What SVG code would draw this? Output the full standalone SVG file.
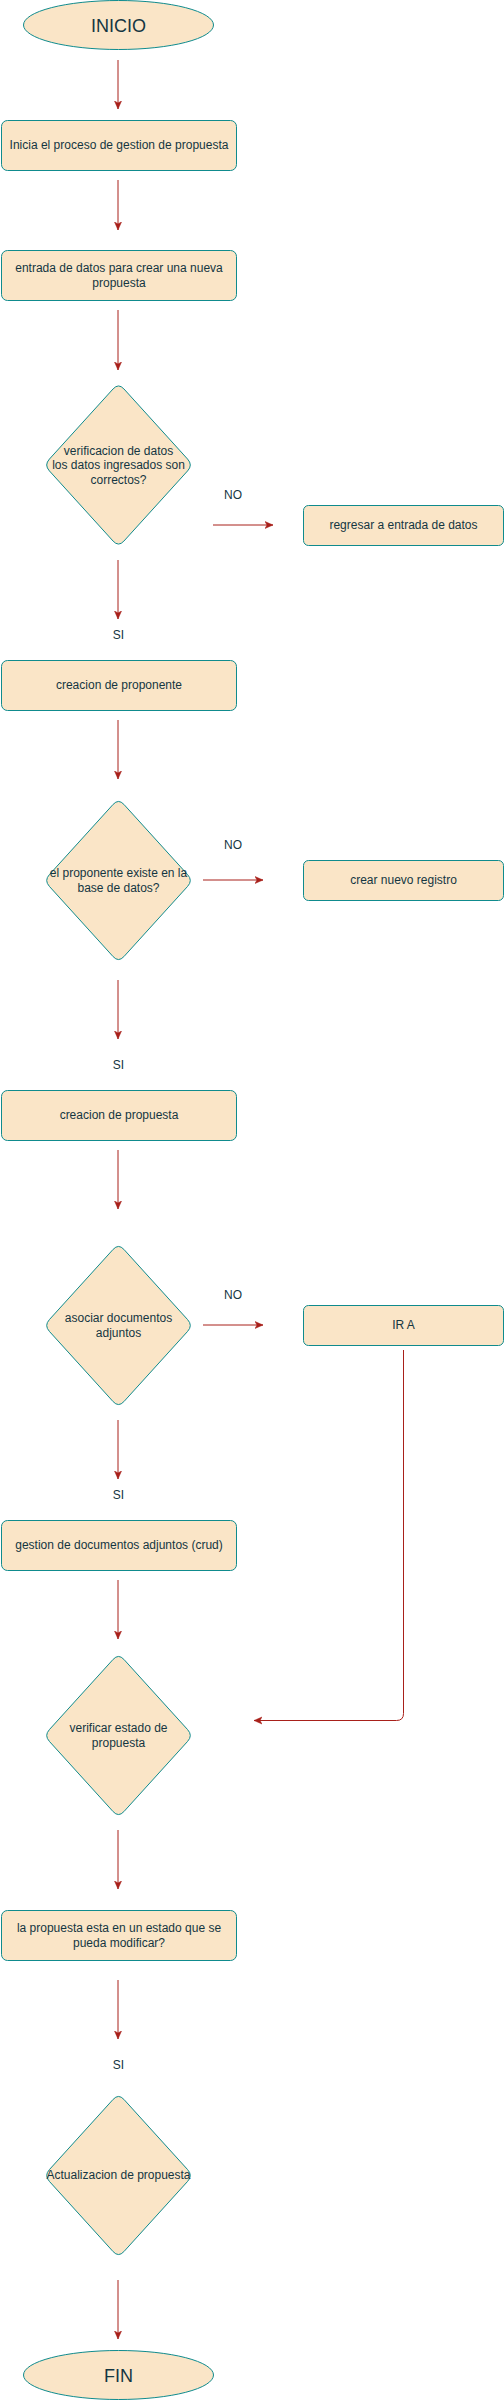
<svg xmlns="http://www.w3.org/2000/svg" xmlns:xlink="http://www.w3.org/1999/xlink" width="504" height="2401" viewBox="0 0 504 2401">
<style>
.shape{fill:#FAE5C7;stroke:#0F8B8D;stroke-width:1}
.t{font-family:"Liberation Sans",Arial,Helvetica,sans-serif;font-size:12px;fill:#143642;text-anchor:middle}
.big{font-size:18px}
.edge{fill:none;stroke:#A8201A;stroke-width:1}
</style>
<defs>
<marker id="ah" markerUnits="userSpaceOnUse" markerWidth="10" markerHeight="10" refX="8" refY="4" orient="auto" viewBox="0 0 10 8">
<path d="M0,0.5 L8,4 L0,7.5 L2,4 Z" fill="#A8201A" stroke="#A8201A" stroke-width="0.5"/>
</marker>
<path id="dia" d="M -5.4,-76.1 Q 0,-82 5.4,-76.1 L 69.1,-5.9 Q 74.5,0 69.1,5.9 L 5.4,76.1 Q 0,82 -5.4,76.1 L -69.1,5.9 Q -74.5,0 -69.1,-5.9 Z"/>
</defs>
<rect width="504" height="2401" fill="#ffffff"/>

<g id="connectors">
<path class="edge" marker-end="url(#ah)" d="M118,60 V109"/>
<path class="edge" marker-end="url(#ah)" d="M118,180 V230"/>
<path class="edge" marker-end="url(#ah)" d="M118,310 V370"/>
<path class="edge" marker-end="url(#ah)" d="M118,560 V619"/>
<path class="edge" marker-end="url(#ah)" d="M118,720 V779"/>
<path class="edge" marker-end="url(#ah)" d="M118,980 V1039"/>
<path class="edge" marker-end="url(#ah)" d="M118,1150 V1209"/>
<path class="edge" marker-end="url(#ah)" d="M118,1420 V1479"/>
<path class="edge" marker-end="url(#ah)" d="M118,1580 V1639"/>
<path class="edge" marker-end="url(#ah)" d="M118,1830 V1889"/>
<path class="edge" marker-end="url(#ah)" d="M118,1980 V2039"/>
<path class="edge" marker-end="url(#ah)" d="M118,2280 V2339"/>
<path class="edge" marker-end="url(#ah)" d="M213,525 H273"/>
<path class="edge" marker-end="url(#ah)" d="M203,880 H263"/>
<path class="edge" marker-end="url(#ah)" d="M203,1325 H263"/>
<path class="edge" marker-end="url(#ah)" d="M403.5,1350 V1713.5 Q403.5,1720.5 396.5,1720.5 H254"/>
<text class="t" x="233" y="499">NO</text>
<text class="t" x="233" y="849">NO</text>
<text class="t" x="233" y="1299">NO</text>
<text class="t" x="118.5" y="639">SI</text>
<text class="t" x="118.5" y="1069">SI</text>
<text class="t" x="118.5" y="1499">SI</text>
<text class="t" x="118.5" y="2069">SI</text>
</g>

<g id="inicio">
<ellipse class="shape" cx="118.5" cy="25" rx="95" ry="24.5"/>
<text class="t big" x="118.5" y="32">INICIO</text>
</g>

<g id="inicia-proceso">
<rect class="shape" x="1.5" y="120.5" width="235" height="50" rx="6"/>
<text class="t" x="119" y="149">Inicia el proceso de gestion de propuesta</text>
</g>

<g id="entrada-datos">
<rect class="shape" x="1.5" y="250.5" width="235" height="50" rx="6"/>
<text class="t" x="119" y="271.5">entrada de datos para crear una nueva</text>
<text class="t" x="119" y="286.5">propuesta</text>
</g>

<g id="verificacion-datos">
<use xlink:href="#dia" class="shape" x="118.5" y="465"/>
<text class="t" x="118.5" y="454.5">verificacion de datos</text>
<text class="t" x="118.5" y="469">los datos ingresados son</text>
<text class="t" x="118.5" y="483.5">correctos?</text>
</g>

<g id="regresar-entrada">
<rect class="shape" x="303.5" y="505.5" width="200" height="40" rx="5"/>
<text class="t" x="403.5" y="529">regresar a entrada de datos</text>
</g>

<g id="creacion-proponente">
<rect class="shape" x="1.5" y="660.5" width="235" height="50" rx="6"/>
<text class="t" x="119" y="689">creacion de proponente</text>
</g>

<g id="proponente-existe">
<use xlink:href="#dia" class="shape" x="118.5" y="880.5"/>
<text class="t" x="118.5" y="877">el proponente existe en la</text>
<text class="t" x="118.5" y="892">base de datos?</text>
</g>

<g id="crear-registro">
<rect class="shape" x="303.5" y="860.5" width="200" height="40" rx="5"/>
<text class="t" x="403.5" y="884">crear nuevo registro</text>
</g>

<g id="creacion-propuesta">
<rect class="shape" x="1.5" y="1090.5" width="235" height="50" rx="6"/>
<text class="t" x="119" y="1119">creacion de propuesta</text>
</g>

<g id="asociar-documentos">
<use xlink:href="#dia" class="shape" x="118.5" y="1325.5"/>
<text class="t" x="118.5" y="1322">asociar documentos</text>
<text class="t" x="118.5" y="1337">adjuntos</text>
</g>

<g id="ir-a">
<rect class="shape" x="303.5" y="1305.5" width="200" height="40" rx="5"/>
<text class="t" x="403.5" y="1329">IR A</text>
</g>

<g id="gestion-documentos">
<rect class="shape" x="1.5" y="1520.5" width="235" height="50" rx="6"/>
<text class="t" x="119" y="1549">gestion de documentos adjuntos (crud)</text>
</g>

<g id="verificar-estado">
<use xlink:href="#dia" class="shape" x="118.5" y="1735.5"/>
<text class="t" x="118.5" y="1732">verificar estado de</text>
<text class="t" x="118.5" y="1747">propuesta</text>
</g>

<g id="estado-modificable">
<rect class="shape" x="1.5" y="1910.5" width="235" height="50" rx="6"/>
<text class="t" x="119" y="1932">la propuesta esta en un estado que se</text>
<text class="t" x="119" y="1947">pueda modificar?</text>
</g>

<g id="actualizacion">
<use xlink:href="#dia" class="shape" x="118.5" y="2175.5"/>
<text class="t" x="118.5" y="2179">Actualizacion de propuesta</text>
</g>

<g id="fin">
<ellipse class="shape" cx="118.5" cy="2375" rx="95" ry="24.5"/>
<text class="t big" x="118.5" y="2382">FIN</text>
</g>
</svg>
